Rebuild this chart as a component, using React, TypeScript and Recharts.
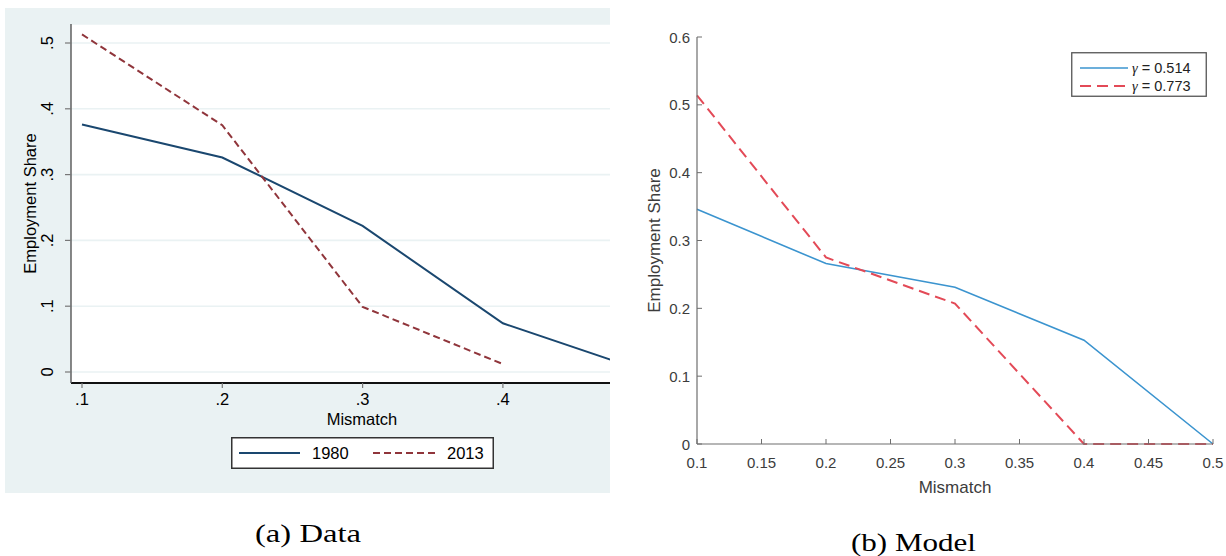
import React from 'react';
import { LineChart, Line, XAxis, YAxis, CartesianGrid, Legend } from 'recharts';

// ---------- Panel (a) Data ----------
const dataMismatch = [0.1, 0.2, 0.3, 0.4, 0.5];
const share1980 = [0.376, 0.326, 0.222, 0.074, 0.002];
const share2013: (number | null)[] = [0.513, 0.375, 0.099, 0.012, null];
const dataXTicks = [0.1, 0.2, 0.3, 0.4];
const dataYTicks = [0, 0.1, 0.2, 0.3, 0.4, 0.5];
const dataSeriesNames = ['1980', '2013'];

// ---------- Panel (b) Model ----------
const modelMismatch = [0.1, 0.2, 0.3, 0.4, 0.5];
const shareGammaLow = [0.346, 0.266, 0.231, 0.153, 0];
const shareGammaHigh = [0.514, 0.275, 0.207, 0, 0];
const modelXTicks = [0.1, 0.15, 0.2, 0.25, 0.3, 0.35, 0.4, 0.45, 0.5];
const modelYTicks = [0, 0.1, 0.2, 0.3, 0.4, 0.5, 0.6];
const modelSeriesNames = ['γ = 0.514', 'γ = 0.773'];

const axisTitles = ['Employment Share', 'Mismatch'];
const captions = ['(a) Data', '(b) Model'];

const dataRows = dataMismatch.map((m, i) => ({ m, s1980: share1980[i], s2013: share2013[i] }));
const modelRows = modelMismatch.map((m, i) => ({ m, low: shareGammaLow[i], high: shareGammaHigh[i] }));

const SANS = 'Liberation Sans, Arial, Helvetica, sans-serif';
const SERIF = 'Liberation Serif, Times New Roman, serif';

// Stata-like styles
const STATA_BG = '#eaf2f3';
const NAVY = '#1a476f';
const MAROON = '#90353b';
const STATA_FS = 16.5;

// MATLAB-like styles
const ML_BLUE = '#3b94cf';
const ML_RED = '#e34a57';
const ML_AXIS = '#6e6e6e';
const ML_TEXT = '#3c3c3c';
const ML_FS = 15;

const stataFmt = (v: number) => (v === 0 ? '0' : String(v).replace(/^0\./, '.'));

const StataXTick = (props: any) => {
  const { x, y, payload } = props;
  return (
    <g>
      <line x1={x} y1={y} x2={x} y2={y + 5} stroke="#777" strokeWidth={1.2} />
      <text x={x} y={y + 16} textAnchor="middle" dominantBaseline="central" fontFamily={SANS} fontSize={STATA_FS} fill="#000">
        {stataFmt(payload.value)}
      </text>
    </g>
  );
};

const StataYTick = (props: any) => {
  const { x, y, payload } = props;
  const tx = x - 24;
  return (
    <g>
      <line x1={x - 6} y1={y} x2={x} y2={y} stroke="#777" strokeWidth={1.2} />
      <text x={tx} y={y} transform={`rotate(-90 ${tx} ${y})`} textAnchor="middle" dominantBaseline="central" fontFamily={SANS} fontSize={STATA_FS} fill="#000">
        {stataFmt(payload.value)}
      </text>
    </g>
  );
};

const MLBottomTick = (props: any) => {
  const { x, y, payload } = props;
  return (
    <g>
      <line x1={x} y1={y} x2={x} y2={y - 5} stroke={ML_AXIS} strokeWidth={1} />
      <text x={x} y={y + 18.5} textAnchor="middle" dominantBaseline="central" fontFamily={SANS} fontSize={ML_FS} fill={ML_TEXT}>
        {String(payload.value)}
      </text>
    </g>
  );
};

const MLTopTick = (props: any) => {
  const { x, y } = props;
  return <line x1={x} y1={y} x2={x} y2={y + 5} stroke={ML_AXIS} strokeWidth={1} />;
};

const MLLeftTick = (props: any) => {
  const { x, y, payload } = props;
  return (
    <g>
      <line x1={x} y1={y} x2={x + 5} y2={y} stroke={ML_AXIS} strokeWidth={1} />
      <text x={x - 7} y={y} textAnchor="end" dominantBaseline="central" fontFamily={SANS} fontSize={ML_FS} fill={ML_TEXT}>
        {String(payload.value)}
      </text>
    </g>
  );
};

const MLRightTick = (props: any) => {
  const { x, y } = props;
  return <line x1={x} y1={y} x2={x - 5} y2={y} stroke={ML_AXIS} strokeWidth={1} />;
};

const StataLegend = () => (
  <svg width={263} height={32} style={{ display: 'block' }}>
    <rect x={0.75} y={0.75} width={261.5} height={30.5} fill="#fff" stroke="#333" strokeWidth={1.5} />
    <line x1={8} y1={16} x2={69} y2={16} stroke={NAVY} strokeWidth={2} />
    <text x={81} y={16} dominantBaseline="central" fontFamily={SANS} fontSize={STATA_FS} fill="#000">{dataSeriesNames[0]}</text>
    <line x1={142} y1={16} x2={206} y2={16} stroke={MAROON} strokeWidth={2} strokeDasharray="7 4" />
    <text x={216} y={16} dominantBaseline="central" fontFamily={SANS} fontSize={STATA_FS} fill="#000">{dataSeriesNames[1]}</text>
  </svg>
);

const gammaLabel = (s: string, x: number, y: number) => {
  const rest = s.slice(1);
  return (
    <text x={x} y={y} dominantBaseline="central" fontFamily={SANS} fontSize={14.5} fill="#222">
      <tspan fontFamily={SERIF} fontStyle="italic">{s[0]}</tspan>
      <tspan>{rest}</tspan>
    </text>
  );
};

const ModelLegend = () => (
  <svg width={136} height={45} style={{ display: 'block' }}>
    <rect x={0.75} y={0.75} width={134.5} height={43.5} fill="#fff" stroke="#555" strokeWidth={1.3} />
    <line x1={9} y1={16} x2={57} y2={16} stroke={ML_BLUE} strokeWidth={1.6} />
    {gammaLabel(modelSeriesNames[0], 61, 16)}
    <line x1={9} y1={34} x2={57} y2={34} stroke={ML_RED} strokeWidth={2} strokeDasharray="11 6" />
    {gammaLabel(modelSeriesNames[1], 61, 34)}
  </svg>
);

export default function App() {
  return (
    <div style={{ position: 'absolute', left: 0, top: 0, width: 1226, height: 556, background: '#fff', overflow: 'hidden' }}>
      {/* Panel (a) */}
      <div style={{ position: 'absolute', left: 5, top: 8, width: 605, height: 485, overflow: 'hidden', background: STATA_BG }}>
        <LineChart width={660} height={485} data={dataRows} margin={{ top: 16, right: 12, bottom: 0, left: 0 }}>
          <CartesianGrid vertical={false} horizontal={true} fill="#fff" fillOpacity={1} stroke={STATA_BG} strokeWidth={1.6} />
          <XAxis
            dataKey="m"
            type="number"
            domain={[0.09216, 0.50699]}
            allowDataOverflow
            ticks={dataXTicks}
            interval={0}
            height={110}
            tickSize={0}
            tickMargin={0}
            tickLine={false}
            axisLine={{ stroke: '#111', strokeWidth: 1.8 }}
            tick={(p: any) => <StataXTick {...p} />}
            label={(p: any) => {
              const vb = p.viewBox || {};
              return (
                <text x={vb.x + vb.width / 2} y={vb.y + 36} textAnchor="middle" dominantBaseline="central" fontFamily={SANS} fontSize={STATA_FS} fill="#000">
                  {axisTitles[1]}
                </text>
              );
            }}
          />
          <YAxis
            type="number"
            domain={[-0.01672, 0.52888]}
            allowDataOverflow
            ticks={dataYTicks}
            interval={0}
            width={66}
            tickSize={0}
            tickMargin={0}
            tickLine={false}
            axisLine={{ stroke: '#555', strokeWidth: 1.4 }}
            tick={(p: any) => <StataYTick {...p} />}
            label={(p: any) => {
              const vb = p.viewBox || {};
              const cx = vb.x + 24.5;
              const cy = vb.y + vb.height / 2;
              return (
                <text x={cx} y={cy} transform={`rotate(-90 ${cx} ${cy})`} textAnchor="middle" dominantBaseline="central" fontFamily={SANS} fontSize={STATA_FS} fill="#000">
                  {axisTitles[0]}
                </text>
              );
            }}
          />
          <Line type="linear" dataKey="s1980" name={dataSeriesNames[0]} stroke={NAVY} strokeWidth={2} dot={false} activeDot={false} isAnimationActive={false} />
          <Line type="linear" dataKey="s2013" name={dataSeriesNames[1]} stroke={MAROON} strokeWidth={2} strokeDasharray="7 4" dot={false} activeDot={false} isAnimationActive={false} />
          <Legend
            layout="horizontal"
            verticalAlign="middle"
            align="center"
            wrapperStyle={{ left: 226, top: 429, width: 263, height: 32 }}
            content={() => <StataLegend />}
          />
        </LineChart>
      </div>

      {/* Panel (b) */}
      <div style={{ position: 'absolute', left: 620, top: 0, width: 606, height: 500 }}>
        <LineChart width={606} height={500} data={modelRows} margin={{ top: 37, right: 13, bottom: 0, left: 0 }}>
          <XAxis
            xAxisId="t"
            orientation="top"
            type="number"
            dataKey="m"
            domain={[0.1, 0.5]}
            allowDataOverflow
            ticks={modelXTicks}
            interval={0}
            height={0}
            tickSize={0}
            tickMargin={0}
            tickLine={false}
            axisLine={{ stroke: ML_AXIS, strokeWidth: 1.2 }}
            tick={(p: any) => <MLTopTick {...p} />}
          />
          <YAxis
            yAxisId="r"
            orientation="right"
            type="number"
            domain={[0, 0.6]}
            allowDataOverflow
            ticks={modelYTicks}
            interval={0}
            width={0}
            tickSize={0}
            tickMargin={0}
            tickLine={false}
            axisLine={{ stroke: ML_AXIS, strokeWidth: 1.2 }}
            tick={(p: any) => <MLRightTick {...p} />}
          />
          <XAxis
            xAxisId="b"
            type="number"
            dataKey="m"
            domain={[0.1, 0.5]}
            ticks={modelXTicks}
            interval={0}
            height={56}
            tickSize={0}
            tickMargin={0}
            tickLine={false}
            axisLine={{ stroke: ML_AXIS, strokeWidth: 1.2 }}
            tick={(p: any) => <MLBottomTick {...p} />}
            label={(p: any) => {
              const vb = p.viewBox || {};
              return (
                <text x={vb.x + vb.width / 2} y={vb.y + 43} textAnchor="middle" dominantBaseline="central" fontFamily={SANS} fontSize={17} fill={ML_TEXT}>
                  {axisTitles[1]}
                </text>
              );
            }}
          />
          <YAxis
            yAxisId="l"
            type="number"
            domain={[0, 0.6]}
            ticks={modelYTicks}
            interval={0}
            width={77}
            tickSize={0}
            tickMargin={0}
            tickLine={false}
            axisLine={{ stroke: ML_AXIS, strokeWidth: 1.2 }}
            tick={(p: any) => <MLLeftTick {...p} />}
            label={(p: any) => {
              const vb = p.viewBox || {};
              const cx = vb.x + 34;
              const cy = vb.y + vb.height / 2;
              return (
                <text x={cx} y={cy} transform={`rotate(-90 ${cx} ${cy})`} textAnchor="middle" dominantBaseline="central" fontFamily={SANS} fontSize={17} fill={ML_TEXT}>
                  {axisTitles[0]}
                </text>
              );
            }}
          />
          <Line xAxisId="b" yAxisId="l" type="linear" dataKey="low" name={modelSeriesNames[0]} stroke={ML_BLUE} strokeWidth={1.6} dot={false} activeDot={false} isAnimationActive={false} />
          <Line xAxisId="b" yAxisId="l" type="linear" dataKey="high" name={modelSeriesNames[1]} stroke={ML_RED} strokeWidth={2} strokeDasharray="11 6" dot={false} activeDot={false} isAnimationActive={false} />
          <Legend
            layout="horizontal"
            verticalAlign="middle"
            align="center"
            wrapperStyle={{ left: 451, top: 52, width: 136, height: 45 }}
            content={() => <ModelLegend />}
          />
        </LineChart>
      </div>

      {/* Captions */}
      <svg width={1226} height={556} style={{ position: 'absolute', left: 0, top: 0, pointerEvents: 'none' }}>
        <text x={308} y={541.7} textAnchor="middle" fontFamily={SERIF} fontSize={26} fill="#000" textLength={106} lengthAdjust="spacingAndGlyphs">
          {captions[0]}
        </text>
        <text x={913.5} y={550.5} textAnchor="middle" fontFamily={SERIF} fontSize={26} fill="#000" textLength={125} lengthAdjust="spacingAndGlyphs">
          {captions[1]}
        </text>
      </svg>
    </div>
  );
}
